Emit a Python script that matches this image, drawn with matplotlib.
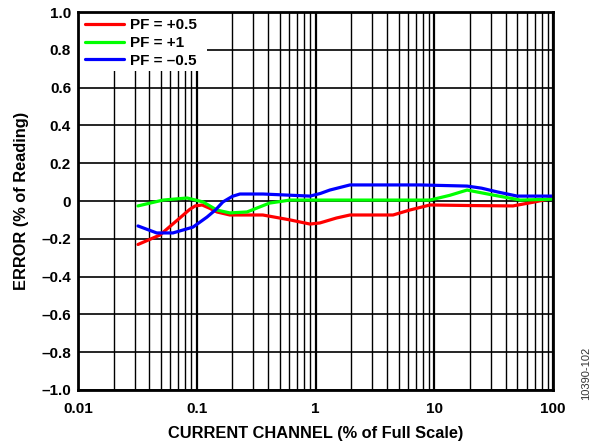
import matplotlib
matplotlib.use("Agg")
import matplotlib.pyplot as plt
from matplotlib.patches import Rectangle
from matplotlib.ticker import FixedLocator, FixedFormatter, LogLocator, NullFormatter

# ---- data ----
red_x = [0.032, 0.049, 0.072, 0.087, 0.097, 0.111, 0.13, 0.148, 0.19, 0.36, 0.61, 0.9, 1.09, 1.5, 1.95, 4.5, 6.2, 9.2, 20, 46, 70, 100]
red_y = [-0.23, -0.18, -0.09, -0.045, -0.026, -0.021, -0.04, -0.058, -0.074, -0.074, -0.10, -0.122, -0.116, -0.09, -0.074, -0.074, -0.048, -0.021, -0.024, -0.026, -0.005, 0.016]

green_x = [0.032, 0.052, 0.083, 0.113, 0.148, 0.19, 0.265, 0.41, 0.61, 1.09, 9.2, 13.5, 18.9, 31, 53, 100]
green_y = [-0.026, 0.005, 0.016, -0.005, -0.048, -0.063, -0.058, -0.011, 0.005, 0.005, 0.005, 0.03, 0.058, 0.032, 0.005, 0.01]

blue_x = [0.032, 0.046, 0.063, 0.093, 0.122, 0.145, 0.166, 0.2, 0.231, 0.361, 0.9, 1.1, 1.32, 1.95, 7.6, 18.9, 25, 34, 50, 100]
blue_y = [-0.132, -0.169, -0.169, -0.138, -0.085, -0.045, -0.005, 0.025, 0.037, 0.037, 0.026, 0.04, 0.058, 0.085, 0.085, 0.079, 0.068, 0.048, 0.026, 0.026]

series_labels = ["PF = +0.5", "PF = +1", "PF = \u20130.5"]
x_ticks = [0.01, 0.1, 1, 10, 100]
x_tick_labels = ["0.01", "0.1", "1", "10", "100"]
y_ticks = [-1.0, -0.8, -0.6, -0.4, -0.2, 0, 0.2, 0.4, 0.6, 0.8, 1.0]
y_tick_labels = ["\u20131.0", "\u20130.8", "\u20130.6", "\u20130.4", "\u20130.2", "0",
                 "0.2", "0.4", "0.6", "0.8", "1.0"]

plt.rcParams['font.family'] = ['Liberation Sans', 'DejaVu Sans']
plt.rcParams['font.weight'] = 'bold'

fig = plt.figure(figsize=(5.94, 4.45), dpi=100)
ax = fig.add_axes([0.1313, 0.1236, 0.931 - 0.1313, 0.973 - 0.1236])

ax.set_xscale('log')
ax.set_xlim(0.01, 100)
ax.set_ylim(-1.0, 1.0)

lw = 2.3
ax.plot(red_x, red_y, color='#ff0000', lw=lw, label=series_labels[0], zorder=3,
        solid_capstyle='round', solid_joinstyle='round')
ax.plot(green_x, green_y, color='#00ff00', lw=lw, label=series_labels[1], zorder=3,
        solid_capstyle='round', solid_joinstyle='round')
ax.plot(blue_x, blue_y, color='#0000ff', lw=lw, label=series_labels[2], zorder=3,
        solid_capstyle='round', solid_joinstyle='round')

ax.xaxis.set_major_locator(FixedLocator(x_ticks))
ax.xaxis.set_major_formatter(FixedFormatter(x_tick_labels))
ax.xaxis.set_minor_locator(LogLocator(base=10, subs=range(2, 10)))
ax.xaxis.set_minor_formatter(NullFormatter())
ax.yaxis.set_major_locator(FixedLocator(y_ticks))
ax.yaxis.set_major_formatter(FixedFormatter(y_tick_labels))

ax.grid(which='major', axis='x', color='black', lw=1.6, zorder=1)
ax.grid(which='minor', axis='x', color='black', lw=1.0, zorder=1)
ax.grid(which='major', axis='y', color='black', lw=1.2, zorder=1)
ax.set_axisbelow(True)

ax.tick_params(which='both', length=0, labelsize=11)
ax.tick_params(axis='x', pad=9)
ax.tick_params(axis='y', pad=5)
for lab in ax.get_xticklabels() + ax.get_yticklabels():
    lab.set_fontweight('bold')

for sp in ax.spines.values():
    sp.set_linewidth(2)
    sp.set_zorder(4)

# white background behind legend
ax.add_patch(Rectangle((0.0, 0.844), 0.272, 0.16, transform=ax.transAxes,
                       facecolor='white', edgecolor='none', zorder=2))

leg = ax.legend(loc='upper left', frameon=False, handlelength=2.5,
                handletextpad=0.45, borderaxespad=0.0, labelspacing=0.25,
                borderpad=0.2, bbox_to_anchor=(0.009, 0.992),
                prop={'weight': 'bold', 'size': 11})
leg.set_zorder(5)

ax.set_xlabel("CURRENT CHANNEL (% of Full Scale)", fontsize=11.8, fontweight='bold', labelpad=7)
ax.set_ylabel("ERROR (% of Reading)", fontsize=11.8, fontweight='bold', labelpad=9)

fig.text(0.987, 0.101, "10390-102", rotation=90, fontsize=8, fontweight='normal',
         color='#333333', ha='center', va='bottom')

fig.savefig("out.png", dpi=100)
